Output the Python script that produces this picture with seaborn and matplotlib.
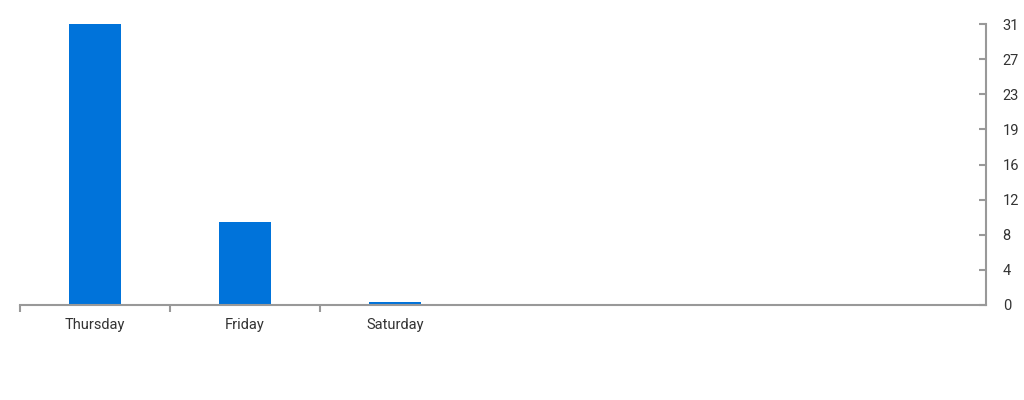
import matplotlib
matplotlib.use("Agg")
import matplotlib.pyplot as plt
import seaborn as sns
import pandas as pd

days = ["Thursday", "Friday", "Saturday"]
values = [31.0, 9.2, 0.3]
y_ticks = [0, 3.875, 7.75, 11.625, 15.5, 19.375, 23.25, 27.125, 31]
y_labels = ["0", "4", "8", "12", "16", "19", "23", "27", "31"]

sns.set_theme(style="white")
plt.rcParams['font.family'] = ['Roboto', 'DejaVu Sans']

df = pd.DataFrame({"day": days, "value": values})

fig = plt.figure(figsize=(10.24, 4.0), dpi=100)
ax = fig.add_axes([20/1024, 95/400, 966/1024, 281/400])

sns.barplot(data=df, x="day", y="value", color="#0073DA", saturation=1,
            width=0.35, ax=ax, edgecolor="none")

n_bands = 966 / 150
ax.set_xlim(-0.5, n_bands - 0.5)
ax.set_ylim(0, 31)

for s in ["top", "left"]:
    ax.spines[s].set_visible(False)
for s in ["bottom", "right"]:
    ax.spines[s].set_color("#999999")
    ax.spines[s].set_linewidth(1.5)

ax.set_xticks([-0.5, 0.5, 1.5])
ax.set_xticklabels([])
ax.set_xticks(range(len(days)), minor=True)
ax.set_xticklabels(days, minor=True)
ax.tick_params(axis="x", which="major", bottom=True, length=5, width=1.5,
               color="#999999", direction="out")
ax.tick_params(axis="x", which="minor", bottom=True, length=0, pad=9,
               labelsize=10.5, labelcolor="#333333")

ax.yaxis.tick_right()
ax.set_yticks(y_ticks)
ax.set_yticklabels(y_labels)
ax.tick_params(axis="y", which="major", right=True, left=False, length=5,
               width=1.5, color="#999999", direction="in", pad=12,
               labelsize=10.5, labelcolor="#333333")

ax.set_xlabel("")
ax.set_ylabel("")
ax.grid(False)

fig.savefig("out.png", dpi=100)
